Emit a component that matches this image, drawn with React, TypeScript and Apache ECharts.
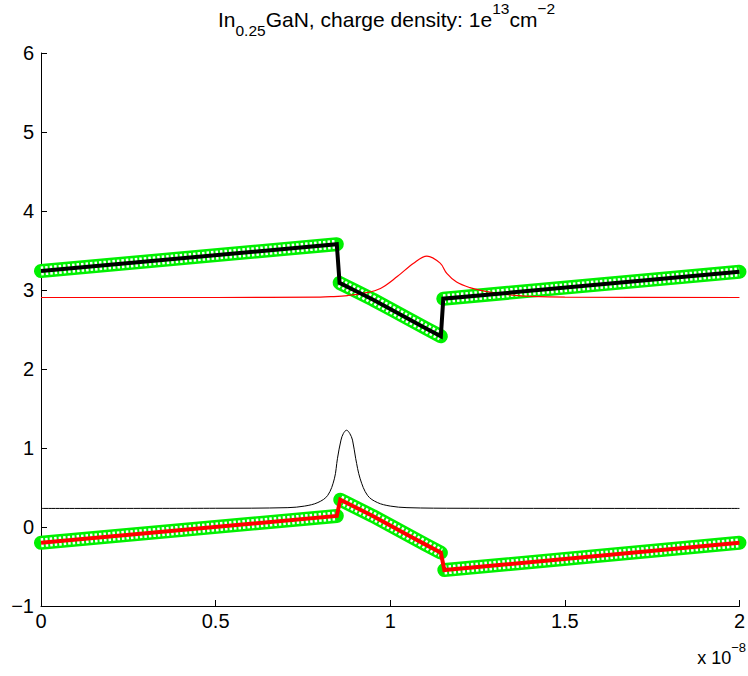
import React, { useEffect, useRef } from "react";
import * as echarts from "echarts";

// x positions are in units of 1e-8
const cbX = [0, 0.847, 0.855, 0.9, 0.95, 1.0, 1.05, 1.1, 1.145, 1.152, 2.0];
const cbY = [3.24, 3.58, 3.09, 2.99, 2.88, 2.76, 2.64, 2.52, 2.415, 2.89, 3.23];
const vbX = [0, 0.847, 0.857, 0.9, 0.95, 1.0, 1.05, 1.1, 1.145, 1.155, 2.0];
const vbY = [-0.2, 0.14, 0.345, 0.25, 0.14, 0.02, -0.1, -0.22, -0.325, -0.545, -0.2];
// index ranges of the continuous pieces (marker bands do not follow the jumps)
const pieces = [
  [0, 2],
  [2, 9],
  [9, 11],
];

const redX = [0, 0.5, 0.8, 0.83, 0.878, 0.925, 0.972, 1.02, 1.067, 1.105, 1.143, 1.162, 1.19, 1.228, 1.266, 1.304, 1.35, 1.4, 1.5, 2.0];
const redY = [2.905, 2.905, 2.91, 2.915, 2.93, 2.96, 3.02, 3.17, 3.34, 3.43, 3.34, 3.21, 3.1, 3.03, 2.99, 2.96, 2.935, 2.92, 2.91, 2.905];

const blkX = [0, 0.5, 0.707, 0.755, 0.793, 0.821, 0.84, 0.849, 0.859, 0.866, 0.875, 0.884, 0.892, 0.901, 0.914, 0.935, 0.963, 1.0, 1.048, 1.2, 2.0];
const blkY = [0.235, 0.237, 0.245, 0.265, 0.31, 0.4, 0.61, 0.87, 1.1, 1.185, 1.225, 1.185, 1.1, 0.87, 0.61, 0.4, 0.31, 0.265, 0.245, 0.237, 0.235];

const xTicks = { min: 0, max: 2, interval: 0.5 };
const yTicks = { min: -1, max: 6, interval: 1 };

const FONT = "'Liberation Sans', Arial, Helvetica, sans-serif";

const zip = (xs: number[], ys: number[]) => xs.map((x, i) => [x, ys[i]]);

export default function App() {
  const ref = useRef<HTMLDivElement>(null);
  useEffect(() => {
    document.body.style.margin = "0";
    const chart = echarts.init(ref.current!, null, { renderer: "svg" });
    const cb = zip(cbX, cbY);
    const vb = zip(vbX, vbY);
    const series: any[] = [];
    const band = (pts: number[][]) => {
      pieces.forEach(([a, b]) => {
        series.push({
          type: "line",
          data: pts.slice(a, b),
          showSymbol: false,
          silent: true,
          lineStyle: { color: "#00f000", width: 14, cap: "round", join: "round" },
        });
      });
    };
    const bandInner = (pts: number[][]) => {
      pieces.forEach(([a, b]) => {
        series.push({
          type: "line",
          data: pts.slice(a, b),
          showSymbol: false,
          silent: true,
          lineStyle: { color: "#ffffff", width: 9, type: [2.5, 2], cap: "butt", join: "round" },
        });
      });
    };
    band(cb);
    band(vb);
    bandInner(cb);
    bandInner(vb);
    series.push({
      type: "line",
      data: zip(redX, redY),
      showSymbol: false,
      smooth: 0.35,
      lineStyle: { color: "#ff0000", width: 1.2 },
    });
    series.push({
      type: "line",
      data: zip(blkX, blkY),
      showSymbol: false,
      smooth: 0.35,
      lineStyle: { color: "#000000", width: 1 },
    });
    series.push({
      type: "line",
      data: cb,
      showSymbol: false,
      lineStyle: { color: "#000000", width: 4, join: "miter" },
    });
    series.push({
      type: "line",
      data: vb,
      showSymbol: false,
      lineStyle: { color: "#ff0000", width: 4, join: "miter" },
    });

    const minus = (v: number) => String(v).replace("-", "\u2212");

    chart.setOption({
      animation: false,
      backgroundColor: "#ffffff",
      title: {
        text: "{a|In}{sub|0.25}{a|GaN, charge density: 1e}{sup|13}{a|cm}{sup|\u22122}",
        left: 218,
        top: 0,
        padding: 0,
        textStyle: {
          fontFamily: FONT,
          fontWeight: "normal",
          rich: {
            a: { fontSize: 21, fontFamily: FONT, fontWeight: "normal", color: "#000", lineHeight: 38, verticalAlign: "middle" },
            sub: { fontSize: 15.5, fontFamily: FONT, fontWeight: "normal", color: "#000", lineHeight: 15, verticalAlign: "bottom" },
            sup: { fontSize: 15.5, fontFamily: FONT, fontWeight: "normal", color: "#000", lineHeight: 17, verticalAlign: "top" },
          },
        },
      },
      grid: { left: 41, right: 3, top: 53, bottom: 70, containLabel: false },
      xAxis: {
        type: "value",
        min: xTicks.min,
        max: xTicks.max,
        interval: xTicks.interval,
        splitLine: { show: false },
        axisLine: { onZero: false, lineStyle: { color: "#000", width: 1 } },
        axisTick: { inside: true, length: 6, lineStyle: { color: "#000" } },
        axisLabel: {
          color: "#000",
          fontSize: 20,
          fontFamily: FONT,
          margin: 5,
          formatter: (v: number) => minus(v),
        },
      },
      yAxis: {
        type: "value",
        min: yTicks.min,
        max: yTicks.max,
        interval: yTicks.interval,
        splitLine: { show: false },
        axisLine: { show: true, onZero: false, lineStyle: { color: "#000", width: 1 } },
        axisTick: { show: true, inside: true, length: 6, lineStyle: { color: "#000" } },
        axisLabel: {
          color: "#000",
          fontSize: 20,
          fontFamily: FONT,
          margin: 7,
          formatter: (v: number) => minus(v),
        },
      },
      graphic: [
        {
          type: "text",
          right: 2,
          top: 641,
          style: {
            text: "{a|x 10}{sup|\u22128}",
            rich: {
              a: { fontSize: 18, fontFamily: FONT, fill: "#000", lineHeight: 34, verticalAlign: "middle" },
              sup: { fontSize: 13, fontFamily: FONT, fill: "#000", lineHeight: 20, verticalAlign: "top" },
            },
          },
        },
      ],
      series,
    });
    return () => chart.dispose();
  }, []);
  return <div ref={ref} style={{ position: "absolute", left: 0, top: 0, width: 748, height: 676 }} />;
}
